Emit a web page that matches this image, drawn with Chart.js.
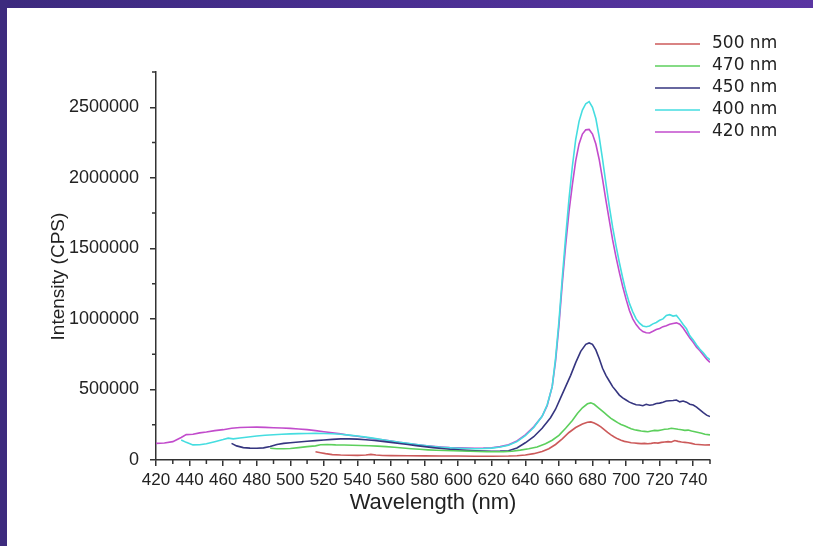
<!DOCTYPE html>
<html>
<head>
<meta charset="utf-8">
<script src="https://cdn.jsdelivr.net/npm/chart.js@4/dist/chart.umd.min.js"></script>
<style>
  body { margin: 0; background: #ffffff; width: 813px; height: 546px; overflow: hidden; position: relative; }
  #topBar { position: absolute; left: 0; top: 0; width: 813px; height: 8px; background: linear-gradient(to right, #3c2a7e, #4a2f92 50%, #5a35a2); }
  #leftBar { position: absolute; left: 0; top: 0; width: 7px; height: 546px; background: #3d2b7e; }
  #wrap { position: absolute; left: 7px; top: 8px; width: 806px; height: 538px; }
</style>
</head>
<body>
<div id="topBar"></div>
<div id="leftBar"></div>
<div id="wrap"><canvas id="spectra" width="806" height="538"></canvas></div>
<script>
// excitation wavelengths (legend order)
const seriesNames = ["500 nm", "470 nm", "450 nm", "400 nm", "420 nm"];
const seriesColors = ["#cc5a5a", "#5ccf5c", "#35357f", "#45dde0", "#c24ccc"];

// 500 nm
const wl500 = [515, 518, 521, 525, 530, 535, 540, 545, 548, 551, 555, 560, 570, 580, 590, 600, 610, 620, 630, 635, 640, 645, 650, 654, 658, 662, 666, 670, 674, 677, 679, 681, 683, 685, 687, 689, 691, 693, 695, 697, 699, 701, 703, 705, 707, 709, 711, 713, 715, 717, 719, 721, 723, 725, 727, 729, 731, 733, 735, 737, 739, 741, 743, 745, 747, 750];
const int500 = [59000, 52000, 45000, 38000, 35000, 34000, 33000, 35000, 40000, 35000, 32000, 31000, 30000, 29000, 28000, 28000, 27000, 27000, 28000, 30000, 35000, 45000, 60000, 80000, 110000, 150000, 195000, 230000, 255000, 268000, 270000, 262000, 250000, 235000, 215000, 195000, 178000, 163000, 150000, 140000, 132000, 128000, 122000, 120000, 118000, 116000, 118000, 115000, 118000, 122000, 120000, 125000, 128000, 130000, 128000, 138000, 132000, 128000, 125000, 122000, 118000, 112000, 110000, 108000, 106000, 107000];

// 470 nm
const wl470 = [488, 492, 496, 500, 505, 510, 515, 518, 522, 527, 532, 537, 542, 547, 552, 557, 562, 567, 572, 577, 582, 587, 592, 597, 602, 607, 612, 617, 622, 627, 632, 637, 642, 647, 652, 656, 660, 664, 668, 671, 674, 677, 679, 681, 683, 685, 687, 689, 691, 693, 695, 697, 699, 701, 703, 705, 707, 709, 711, 713, 715, 717, 719, 721, 723, 725, 727, 729, 731, 733, 735, 737, 739, 741, 743, 745, 747, 750];
const int470 = [83000, 80000, 80000, 82000, 88000, 95000, 100000, 108000, 110000, 107000, 106000, 105000, 103000, 101000, 98000, 95000, 90000, 85000, 80000, 76000, 72000, 69000, 67000, 66000, 64000, 62000, 60000, 59000, 59000, 59000, 62000, 70000, 80000, 92000, 115000, 140000, 175000, 225000, 280000, 330000, 370000, 398000, 405000, 395000, 375000, 355000, 335000, 315000, 295000, 280000, 265000, 252000, 243000, 232000, 222000, 215000, 210000, 205000, 203000, 200000, 205000, 210000, 208000, 213000, 218000, 220000, 225000, 222000, 218000, 215000, 210000, 212000, 205000, 200000, 195000, 190000, 183000, 178000];

// 450 nm
const wl450 = [465, 468, 472, 476, 480, 484, 488, 492, 496, 500, 505, 510, 515, 520, 525, 530, 535, 540, 545, 550, 555, 560, 565, 570, 575, 580, 585, 590, 595, 600, 605, 610, 615, 620, 625, 630, 635, 640, 645, 650, 655, 658, 661, 664, 667, 670, 673, 676, 678, 680, 682, 684, 686, 688, 690, 692, 694, 696, 698, 700, 702, 704, 706, 708, 710, 712, 714, 716, 718, 720, 722, 724, 726, 728, 730, 732, 734, 736, 738, 740, 742, 744, 746, 748, 750];
const int450 = [118000, 100000, 88000, 84000, 83000, 86000, 95000, 110000, 118000, 122000, 128000, 133000, 137000, 142000, 146000, 150000, 150000, 148000, 143000, 138000, 132000, 125000, 117000, 110000, 102000, 95000, 88000, 82000, 76000, 72000, 68000, 65000, 63000, 62000, 63000, 66000, 85000, 122000, 165000, 225000, 300000, 360000, 440000, 520000, 600000, 690000, 770000, 820000, 830000, 820000, 780000, 720000, 650000, 600000, 560000, 520000, 490000, 460000, 440000, 425000, 410000, 400000, 392000, 390000, 385000, 395000, 388000, 392000, 400000, 403000, 410000, 418000, 420000, 422000, 425000, 412000, 418000, 410000, 395000, 390000, 375000, 355000, 335000, 318000, 308000];

// 400 nm
const wl400 = [435, 438, 442, 446, 450, 455, 460, 463, 466, 470, 475, 480, 485, 490, 495, 500, 505, 510, 515, 520, 525, 530, 535, 540, 545, 550, 555, 560, 565, 570, 575, 580, 585, 590, 595, 600, 605, 610, 615, 620, 625, 630, 635, 640, 645, 650, 653, 656, 658, 660, 662, 664, 666, 668, 670, 672, 674, 676, 678, 680, 682, 684, 686, 688, 690, 692, 694, 696, 698, 700, 702, 704, 706, 708, 710, 712, 714, 716, 718, 720, 722, 724, 726, 728, 730, 732, 734, 736, 738, 740, 742, 744, 746, 748, 750];
const int400 = [142000, 125000, 107000, 108000, 115000, 130000, 145000, 155000, 150000, 156000, 163000, 170000, 175000, 179000, 182000, 185000, 187000, 188000, 189000, 188000, 186000, 182000, 176000, 170000, 162000, 153000, 144000, 135000, 126000, 118000, 110000, 103000, 96000, 90000, 86000, 83000, 81000, 80000, 81000, 84000, 92000, 105000, 130000, 172000, 230000, 310000, 390000, 520000, 720000, 980000, 1290000, 1580000, 1850000, 2080000, 2270000, 2400000, 2480000, 2525000, 2540000, 2500000, 2420000, 2290000, 2130000, 1960000, 1800000, 1650000, 1520000, 1400000, 1290000, 1190000, 1110000, 1050000, 1000000, 970000, 950000, 945000, 950000, 965000, 975000, 990000, 1000000, 1025000, 1030000, 1020000, 1025000, 995000, 960000, 930000, 880000, 850000, 815000, 785000, 760000, 730000, 710000];

// 420 nm
const wl420 = [420, 425, 430, 435, 438, 442, 446, 450, 455, 460, 465, 470, 475, 480, 485, 490, 495, 500, 505, 510, 515, 520, 525, 530, 535, 540, 545, 550, 555, 560, 565, 570, 575, 580, 585, 590, 595, 600, 605, 610, 615, 620, 625, 630, 635, 640, 645, 650, 653, 656, 658, 660, 662, 664, 666, 668, 670, 672, 674, 676, 678, 680, 682, 684, 686, 688, 690, 692, 694, 696, 698, 700, 702, 704, 706, 708, 710, 712, 714, 716, 718, 720, 722, 724, 726, 728, 730, 732, 734, 736, 738, 740, 742, 744, 746, 748, 750];
const int420 = [118000, 120000, 130000, 160000, 180000, 182000, 192000, 198000, 208000, 215000, 225000, 230000, 232000, 233000, 231000, 229000, 227000, 224000, 220000, 215000, 208000, 200000, 193000, 185000, 176000, 168000, 160000, 150000, 143000, 135000, 125000, 117000, 110000, 103000, 97000, 92000, 88000, 86000, 84000, 83000, 84000, 87000, 95000, 108000, 135000, 178000, 235000, 310000, 385000, 520000, 700000, 950000, 1250000, 1520000, 1760000, 1950000, 2120000, 2240000, 2310000, 2340000, 2343000, 2310000, 2240000, 2130000, 1990000, 1840000, 1700000, 1560000, 1440000, 1330000, 1230000, 1140000, 1060000, 1000000, 960000, 930000, 910000, 902000, 900000, 912000, 925000, 932000, 945000, 952000, 962000, 968000, 972000, 962000, 935000, 900000, 865000, 835000, 800000, 775000, 745000, 715000, 692000];

// axes
const xTickValues = [420, 440, 460, 480, 500, 520, 540, 560, 580, 600, 620, 640, 660, 680, 700, 720, 740];
const xMinorValues = [430, 450, 470, 490, 510, 530, 550, 570, 590, 610, 630, 650, 670, 690, 710, 730, 750];
const yTickValues = [0, 500000, 1000000, 1500000, 2000000, 2500000];
const yMinorValues = [250000, 750000, 1250000, 1750000, 2250000, 2750000];

const wlList = [wl500, wl470, wl450, wl400, wl420];
const intList = [int500, int470, int450, int400, int420];

function toPoints(xs, ys) {
    return xs.map((x, i) => ({ x: x, y: ys[i] }));
}

const datasets = seriesNames.map((name, i) => ({
    label: name,
    data: toPoints(wlList[i], intList[i]),
    borderColor: seriesColors[i],
    backgroundColor: seriesColors[i],
    borderWidth: 1.6,
    pointRadius: 0,
    tension: 0,
    fill: false
}));

// minor ticks drawn outside the axes
const minorTicks = {
    id: 'minorTicks',
    afterDraw(chart) {
        const ctx = chart.ctx;
        const xs = chart.scales.x, ys = chart.scales.y;
        const area = chart.chartArea;
        ctx.save();
        ctx.strokeStyle = '#333';
        ctx.lineWidth = 1.5;
        ctx.beginPath();
        xMinorValues.forEach(v => {
            const px = xs.getPixelForValue(v);
            ctx.moveTo(px, area.bottom);
            ctx.lineTo(px, area.bottom + 4);
        });
        yMinorValues.forEach(v => {
            const py = ys.getPixelForValue(v);
            ctx.moveTo(area.left, py);
            ctx.lineTo(area.left - 4, py);
        });
        ctx.stroke();
        ctx.restore();
    }
};

// legend drawn in the upper right corner
const cornerLegend = {
    id: 'cornerLegend',
    afterDraw(chart) {
        const ctx = chart.ctx;
        ctx.save();
        ctx.font = '17px "DejaVu Sans"';
        ctx.textBaseline = 'middle';
        ctx.fillStyle = '#222';
        seriesNames.forEach((name, i) => {
            const y = 36 + i * 22;
            ctx.strokeStyle = seriesColors[i];
            ctx.lineWidth = 1.6;
            ctx.beginPath();
            ctx.moveTo(648, y);
            ctx.lineTo(693, y);
            ctx.stroke();
            ctx.fillText(name, 705, y);
        });
        ctx.restore();
    }
};

new Chart(document.getElementById('spectra'), {
    type: 'line',
    data: { datasets: datasets },
    options: {
        responsive: false,
        animation: false,
        devicePixelRatio: 1,
        layout: { padding: { left: 0, top: 64, right: 103, bottom: 0 } },
        plugins: {
            legend: { display: false },
            tooltip: { enabled: false }
        },
        scales: {
            x: {
                type: 'linear',
                min: 420,
                max: 750,
                afterBuildTicks: s => { s.ticks = xTickValues.map(v => ({ value: v })); },
                afterFit: s => { s.height = 86; },
                ticks: {
                    autoSkip: false,
                    maxRotation: 0,
                    padding: 4,
                    color: '#222',
                    font: { family: 'Liberation Sans', size: 17 },
                    callback: v => String(v)
                },
                grid: { drawOnChartArea: false, drawTicks: true, tickLength: 6, color: '#333', lineWidth: 1.5 },
                border: { display: true, color: '#333', width: 1.5 },
                title: {
                    display: true,
                    text: 'Wavelength (nm)',
                    color: '#222',
                    font: { family: 'Liberation Sans', size: 22 },
                    padding: { top: 0, bottom: 30 }
                }
            },
            y: {
                min: 0,
                max: 2750000,
                afterBuildTicks: s => { s.ticks = yTickValues.map(v => ({ value: v })); },
                afterFit: s => { s.width = 149; },
                ticks: {
                    padding: 11,
                    color: '#222',
                    font: { family: 'Liberation Sans', size: 18 },
                    callback: v => String(v)
                },
                grid: { drawOnChartArea: false, drawTicks: true, tickLength: 6, color: '#333', lineWidth: 1.5 },
                border: { display: true, color: '#333', width: 1.5 },
                title: {
                    display: true,
                    text: 'Intensity (CPS)    ',
                    color: '#222',
                    font: { family: 'Liberation Sans', size: 19 },
                    padding: { top: 40, bottom: 0 }
                }
            }
        }
    },
    plugins: [minorTicks, cornerLegend]
});
</script>
</body>
</html>
